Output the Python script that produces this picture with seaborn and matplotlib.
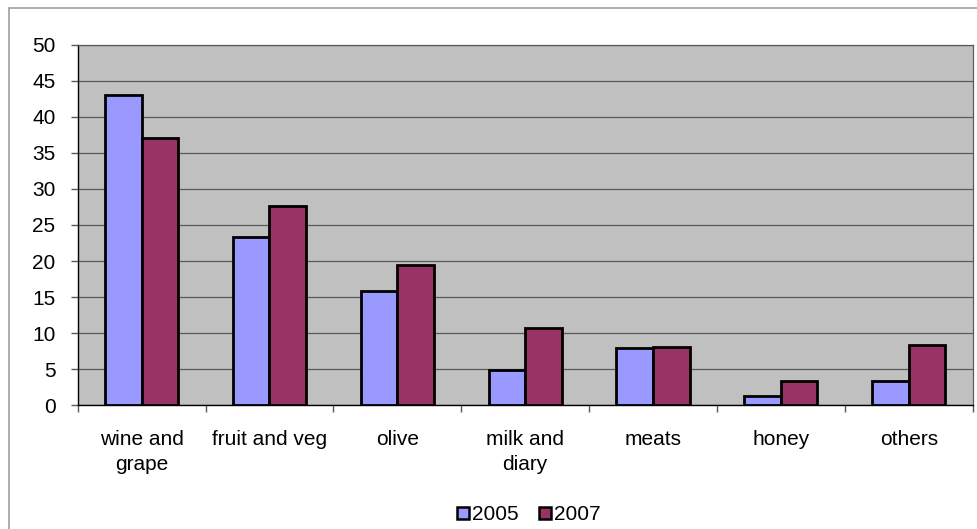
import matplotlib
matplotlib.use("Agg")
import matplotlib.pyplot as plt
from matplotlib.patches import Rectangle
import seaborn as sns
import pandas as pd

categories = ["wine and\ngrape", "fruit and veg", "olive", "milk and\ndiary",
              "meats", "honey", "others"]
years = ["2005", "2007"]
values_2005 = [43.0, 23.4, 15.9, 4.9, 7.9, 1.3, 3.4]
values_2007 = [37.1, 27.6, 19.4, 10.7, 8.1, 3.4, 8.4]
y_ticks = [0, 5, 10, 15, 20, 25, 30, 35, 40, 45, 50]

colors = {"2005": "#9999FF", "2007": "#993366"}

df = pd.DataFrame({
    "category": categories * 2,
    "year": [years[0]] * len(categories) + [years[1]] * len(categories),
    "value": values_2005 + values_2007,
})

sns.set_theme(style="white")
plt.rcParams["font.family"] = ["Liberation Sans", "DejaVu Sans"]
plt.rcParams["text.color"] = "black"

fig = plt.figure(figsize=(9.78, 5.29), dpi=100)
ax = fig.add_axes([77.7 / 978, 1 - 405.3 / 529, 895 / 978, 360.6 / 529])

# outer chart frame
fig.patches.append(Rectangle((9 / 978, -0.1), 1.2, 1 - 8 / 529 + 0.1,
                             transform=fig.transFigure, fill=False,
                             edgecolor="#a0a0a0", linewidth=1.2, zorder=0))

sns.barplot(data=df, x="category", y="value", hue="year", order=categories,
            hue_order=years, palette=colors, saturation=1, width=0.572, gap=0,
            edgecolor="black", linewidth=2.0, ax=ax, zorder=3)

ax.set_facecolor("#C0C0C0")
ax.set_xlim(-0.5, len(categories) - 0.5)
ax.set_ylim(0, 50)
ax.set_yticks(y_ticks)
ax.yaxis.grid(True, color="#5a5a5a", linewidth=0.9)
ax.xaxis.grid(False)
ax.set_axisbelow(True)
ax.set_xlabel("")
ax.set_ylabel("")

for side in ["top", "right"]:
    ax.spines[side].set_color("#5a5a5a")
    ax.spines[side].set_linewidth(0.9)
for side in ["left", "bottom"]:
    ax.spines[side].set_color("black")
    ax.spines[side].set_linewidth(1.0)

ax.tick_params(axis="y", which="major", direction="out", length=5, width=1,
               color="#5a5a5a", left=True, labelsize=15, pad=11,
               labelcolor="black")
ax.tick_params(axis="x", which="major", length=0, labelsize=15, pad=18,
               labelcolor="black")
ax.set_xticks([i + 0.5 for i in range(-1, len(categories))], minor=True)
ax.tick_params(axis="x", which="minor", direction="out", length=5, width=1,
               color="#5a5a5a", bottom=True)
for lbl in ax.get_xticklabels():
    lbl.set_linespacing(1.35)

leg = ax.legend(loc="center", bbox_to_anchor=(529 / 978, 14 / 529),
                bbox_transform=fig.transFigure, ncol=2, frameon=False,
                fontsize=15, handlelength=0.55, handleheight=0.55,
                handletextpad=0.15, columnspacing=1.0, borderaxespad=0,
                labelcolor="black")
for h in leg.legend_handles:
    h.set_edgecolor("black")
    h.set_linewidth(1.8)

fig.savefig("out.png", dpi=100)
